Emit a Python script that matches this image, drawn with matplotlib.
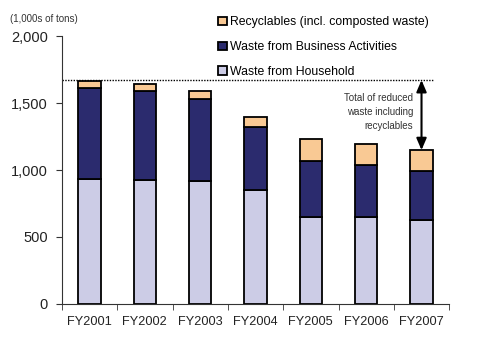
import matplotlib
matplotlib.use("Agg")
import matplotlib.pyplot as plt
import numpy as np
from matplotlib.ticker import FuncFormatter, FixedLocator

plt.rcParams['font.family'] = ['Liberation Sans', 'DejaVu Sans']

years = ["FY2001", "FY2002", "FY2003", "FY2004", "FY2005", "FY2006", "FY2007"]
household = [932, 925, 917, 850, 649, 649, 629]
business = [679, 666, 617, 470, 415, 386, 361]
recyclables = [53, 50, 57, 75, 167, 159, 159]
reference_total = 1672

c_house = "#CCCCE6"
c_bus = "#2B2B6E"
c_rec = "#F9C994"

fig = plt.figure(figsize=(5.03, 3.58), dpi=100)
ax = fig.add_axes([0.123, 0.151, 0.77, 0.748])

x = np.arange(len(years))
w = 0.4
b1 = ax.bar(x, household, w, color=c_house, edgecolor="black", linewidth=1.3, label="Waste from Household")
b2 = ax.bar(x, business, w, bottom=household, color=c_bus, edgecolor="black", linewidth=1.3,
            label="Waste from Business Activities")
bot3 = np.array(household) + np.array(business)
b3 = ax.bar(x, recyclables, w, bottom=bot3, color=c_rec, edgecolor="black", linewidth=1.3,
            label="Recyclables (incl. composted waste)")

ax.set_xlim(-0.5, len(years) - 0.5)
ax.set_ylim(0, 2000)
ax.set_yticks([0, 500, 1000, 1500, 2000])
ax.yaxis.set_major_formatter(FuncFormatter(lambda v, p: f"{int(v):,}"))
ax.tick_params(axis='y', labelsize=10.5, direction='out', length=4, colors='#333333', labelcolor='#222222', pad=6)
ax.set_xticks(x)
ax.set_xticklabels(years)
ax.tick_params(axis='x', which='major', length=0, labelsize=9.2, pad=9, labelcolor='#222222')
ax.xaxis.set_minor_locator(FixedLocator(np.arange(-0.5, len(years), 1.0)))
ax.tick_params(axis='x', which='minor', length=4, direction='out', colors='#333333')
for s in ["top", "right"]:
    ax.spines[s].set_visible(False)
for s in ["left", "bottom"]:
    ax.spines[s].set_color('#333333')

# reference dotted line
ax.plot([-0.5, 6.22], [reference_total, reference_total], linestyle=(0, (1, 1)), color="black", linewidth=1)
total7 = bot3[-1] + recyclables[-1]
ax.annotate("", xy=(6.0, total7), xytext=(6.0, reference_total),
            arrowprops=dict(arrowstyle="<|-|>,head_width=0.3,head_length=0.7", color="black", lw=1.5,
                            shrinkA=0, shrinkB=0))
ax.text(5.85, 1430, "Total of reduced\nwaste including\nrecyclables", ha="right", va="center",
        fontsize=7, color="#333333", linespacing=1.5)

fig.text(0.02, 0.948, "(1,000s of tons)", fontsize=7, color="#333333", va="center")

leg = ax.legend(handles=[b3, b2, b1], loc="upper left", bbox_to_anchor=(0.375, 1.115), frameon=False,
                fontsize=8.8, handlelength=0.7, handleheight=0.7, handletextpad=0.3, labelspacing=1.05)

fig.savefig("out.png", dpi=100)
